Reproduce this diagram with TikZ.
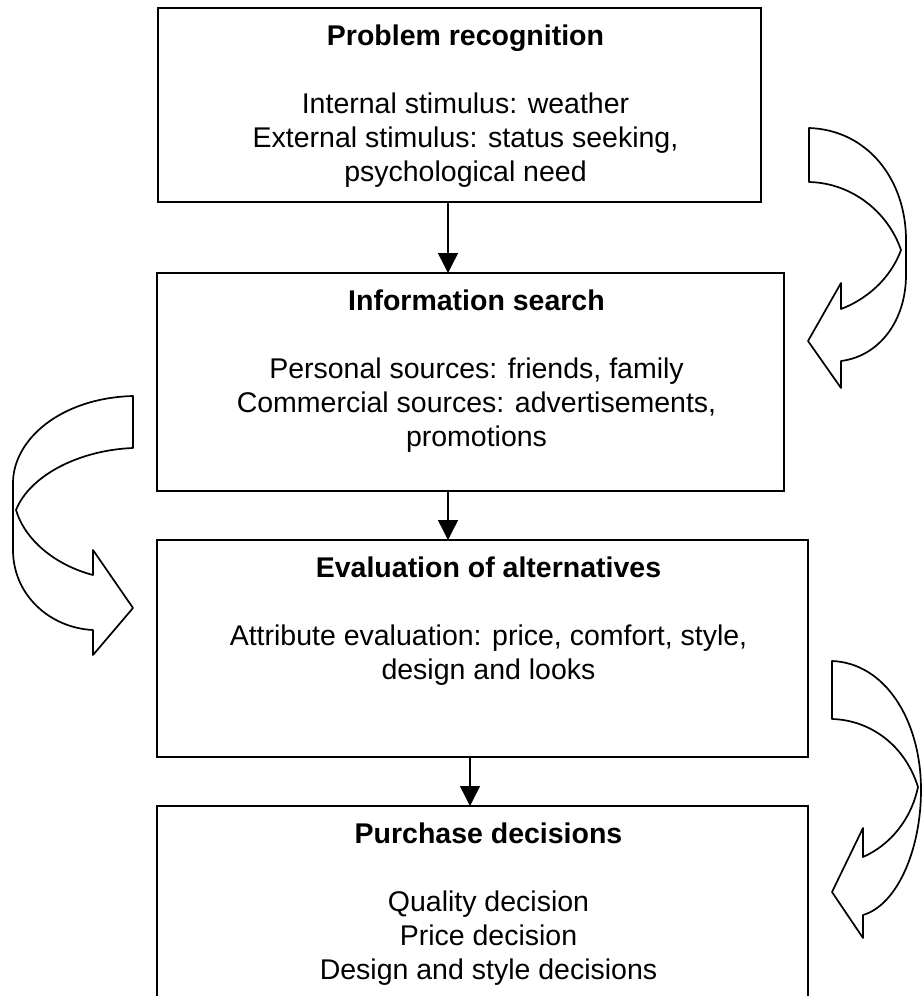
\documentclass[tikz,border=0pt]{standalone}
\usepackage{fontspec}
\setmainfont{Liberation Sans}
\usetikzlibrary{arrows.meta}
\begin{document}
\begin{tikzpicture}[x=1pt,y=-1pt,
  stage/.style={draw, line width=2pt, rectangle, inner sep=0pt, outer sep=0pt},
  heading/.style={font=\fontsize{28.5}{34}\selectfont\bfseries, inner sep=0pt, anchor=base},
  body/.style={font=\fontsize{28.5}{34}\selectfont, align=center, inner sep=0pt},
  flow/.style={line width=1.4pt, -{Triangle[length=20pt,width=20pt]}},
  blockarrow/.style={draw, line width=1.7pt, line join=round, fill=white}]
\clip (0,0) rectangle (923,996);

% stage boxes
\node[stage, minimum width=603pt, minimum height=194pt] (b1) at (459.5,105) {};
\node[stage, minimum width=627pt, minimum height=218pt] (b2) at (470.5,382) {};
\node[stage, minimum width=651pt, minimum height=217pt] (b3) at (482.5,648.5) {};
\node[stage, minimum width=651pt, minimum height=220pt] (b4) at (482.5,916) {};

% box texts
\node[heading] (h1) at (465.5,45) {Problem recognition};
\node[body] (d1) at (465.5,139.8) {Internal stimulus: weather\\External stimulus: status seeking,\\psychological need};
\node[heading] (h2) at (476.5,310) {Information search};
\node[body] (d2) at (476.5,404.8) {Personal sources: friends, family\\Commercial sources: advertisements,\\promotions};
\node[heading] (h3) at (488.5,577) {Evaluation of alternatives};
\node[body] (d3) at (488.5,654.8) {Attribute evaluation: price, comfort, style,\\design and looks};
\node[heading] (h4) at (488.5,843) {Purchase decisions};
\node[body] (d4) at (488.5,937.8) {Quality decision\\Price decision\\Design and style decisions};

% straight connectors
\coordinate (x1) at (448,0);
\coordinate (x3) at (470,0);
\draw[flow] (b1.south -| x1) -- (b2.north -| x1);
\draw[flow] (b2.south -| x1) -- (b3.north -| x1);
\draw[flow] (b3.south -| x3) -- (b4.north -| x3);

% curved block arrows
\draw[blockarrow] (809,128) .. controls (868,130) and (906,180) .. (906,240) -- (906,275)
  .. controls (906,320) and (880,356) .. (841,361) -- (841,388) -- (808,341) -- (841,283) -- (841,309)
  .. controls (865,300) and (890,280) .. (901,250)
  .. controls (888,212) and (852,183) .. (809,182) -- cycle;
\draw[blockarrow] (133,396) .. controls (60,398) and (13,440) .. (13,483) -- (13,550)
  .. controls (13,595) and (50,628) .. (93,630) -- (93,655) -- (133,608) -- (93,550) -- (93,575)
  .. controls (55,565) and (25,540) .. (16,510)
  .. controls (30,475) and (80,450) .. (133,448) -- cycle;
\draw[blockarrow] (832,661) .. controls (885,663) and (921,720) .. (921,790)
  .. controls (921,850) and (897,905) .. (863,915) -- (863,938) -- (832,892) -- (863,828) -- (863,857)
  .. controls (890,845) and (911,820) .. (918,787)
  .. controls (905,745) and (870,720) .. (832,719) -- cycle;
\end{tikzpicture}
\end{document}
